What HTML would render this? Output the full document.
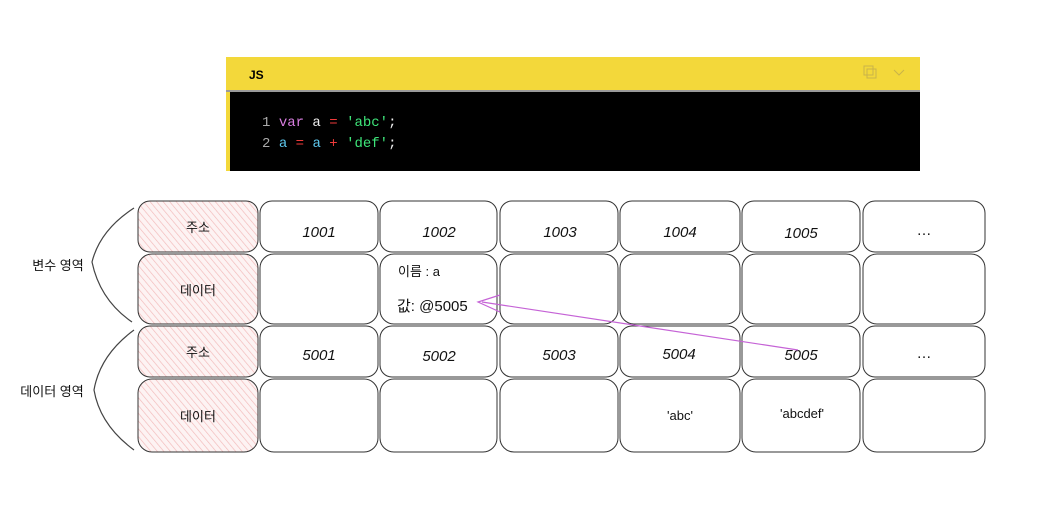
<!DOCTYPE html>
<html><head><meta charset="utf-8"><style>
html,body{margin:0;padding:0;background:#fff;}
svg text{font-family:"Liberation Sans","Noto Sans CJK KR",sans-serif;}
</style></head><body>
<svg width="1063" height="509" viewBox="0 0 1063 509" xmlns="http://www.w3.org/2000/svg">
<defs>
<pattern id="h" width="5" height="5" patternUnits="userSpaceOnUse" patternTransform="rotate(-40)">
<rect width="5" height="5" fill="#fdf3f3"/><line x1="0" y1="0" x2="0" y2="5" stroke="#f2b8b8" stroke-width="1.3"/>
</pattern>
</defs>
<!-- code block -->
<rect x="226" y="57" width="694" height="34" fill="#f3d83a"/>
<rect x="226" y="90" width="694" height="2" fill="#9a9a9a"/>
<rect x="226" y="92" width="694" height="79" fill="#000"/>
<rect x="226" y="92" width="4" height="79" fill="#f3d83a"/>
<text x="249" y="79" font-size="12" font-weight="bold" fill="#000">JS</text>
<rect x="864" y="66" width="9" height="9" fill="none" stroke="#c9b34a"/>
<rect x="867" y="69" width="9" height="9" fill="none" stroke="#c9b34a"/>
<path d="M894 70 l5 5 l5 -5" fill="none" stroke="#c9b34a"/>
<g font-family="Liberation Mono,monospace" font-size="14">
<text x="262" y="126" style="font-family:'Liberation Mono',monospace"><tspan fill="#aaa">1 </tspan><tspan fill="#d87ee0">var</tspan><tspan fill="#eee"> a </tspan><tspan fill="#f03a3a">=</tspan> <tspan fill="#3ee67a">'abc'</tspan><tspan fill="#eee">;</tspan></text>
<text x="262" y="147" style="font-family:'Liberation Mono',monospace"><tspan fill="#aaa">2 </tspan><tspan fill="#5ec8ee">a</tspan> <tspan fill="#f03a3a">=</tspan> <tspan fill="#5ec8ee">a</tspan> <tspan fill="#f03a3a">+</tspan> <tspan fill="#3ee67a">'def'</tspan><tspan fill="#eee">;</tspan></text>
</g>
<!-- braces -->
<path d="M134 208 Q100 230 92 262 Q100 300 132 322" fill="none" stroke="#444" stroke-width="1.2"/>
<path d="M134 330 Q100 355 94 390 Q100 425 134 450" fill="none" stroke="#444" stroke-width="1.2"/>
<text x="58" y="270" font-size="13" fill="#111" text-anchor="middle">변수 영역</text>
<text x="52" y="396" font-size="13" fill="#111" text-anchor="middle">데이터 영역</text>
<!-- grid -->
<g stroke="#333" stroke-width="1" fill="#fff">
<rect x="138" y="201" width="120" height="51" rx="12" fill="url(#h)"/>
<rect x="138" y="254" width="120" height="70" rx="14" fill="url(#h)"/>
<rect x="138" y="326" width="120" height="51" rx="12" fill="url(#h)"/>
<rect x="138" y="379" width="120" height="73" rx="14" fill="url(#h)"/>
</g>
<g stroke="#333" stroke-width="1" fill="#fff">
<rect x="260" y="201" width="118" height="51" rx="12"/><rect x="380" y="201" width="117" height="51" rx="12"/><rect x="500" y="201" width="118" height="51" rx="12"/><rect x="620" y="201" width="120" height="51" rx="12"/><rect x="742" y="201" width="118" height="51" rx="12"/><rect x="863" y="201" width="122" height="51" rx="12"/>
<rect x="260" y="254" width="118" height="70" rx="14"/><rect x="380" y="254" width="117" height="70" rx="14"/><rect x="500" y="254" width="118" height="70" rx="14"/><rect x="620" y="254" width="120" height="70" rx="14"/><rect x="742" y="254" width="118" height="70" rx="14"/><rect x="863" y="254" width="122" height="70" rx="14"/>
<rect x="260" y="326" width="118" height="51" rx="12"/><rect x="380" y="326" width="117" height="51" rx="12"/><rect x="500" y="326" width="118" height="51" rx="12"/><rect x="620" y="326" width="120" height="51" rx="12"/><rect x="742" y="326" width="118" height="51" rx="12"/><rect x="863" y="326" width="122" height="51" rx="12"/>
<rect x="260" y="379" width="118" height="73" rx="14"/><rect x="380" y="379" width="117" height="73" rx="14"/><rect x="500" y="379" width="118" height="73" rx="14"/><rect x="620" y="379" width="120" height="73" rx="14"/><rect x="742" y="379" width="118" height="73" rx="14"/><rect x="863" y="379" width="122" height="73" rx="14"/>
</g>
<g font-size="15" fill="#111" text-anchor="middle">
<text x="198" y="232" font-size="13">주소</text><text x="198" y="295" font-size="13">데이터</text>
<text x="198" y="357" font-size="13">주소</text><text x="198" y="421" font-size="13">데이터</text>
<text x="319" y="237" font-style="italic">1001</text><text x="439" y="237" font-style="italic">1002</text><text x="560" y="237" font-style="italic">1003</text><text x="680" y="237" font-style="italic">1004</text><text x="801" y="238" font-style="italic">1005</text><text x="924" y="235">…</text>
<text x="319" y="360" font-style="italic">5001</text><text x="439" y="361" font-style="italic">5002</text><text x="559" y="360" font-style="italic">5003</text><text x="679" y="359" font-style="italic">5004</text><text x="801" y="360" font-style="italic">5005</text><text x="924" y="358">…</text>
<text x="680" y="420" font-size="13">'abc'</text><text x="802" y="418" font-size="13">'abcdef'</text>
</g>
<text x="398" y="276" font-size="13" fill="#111">이름 : a</text>
<text x="397" y="311" font-size="15" fill="#111">값: @5005</text>
<!-- arrow -->
<path d="M798 350 L482 302" fill="none" stroke="#c563d6" stroke-width="1.2"/>
<path d="M500 295 L478 302 L500 312" fill="none" stroke="#c563d6" stroke-width="1.2"/>
</svg>
</body></html>
